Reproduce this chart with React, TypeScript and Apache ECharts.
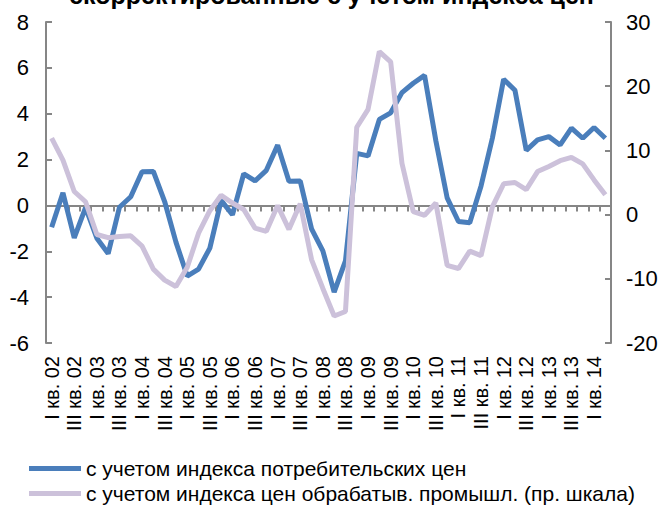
import React, { useEffect, useRef } from "react";
import * as echarts from "echarts";

const categories = [
  "I кв. 02", "II кв. 02", "III кв. 02", "IV кв. 02",
  "I кв. 03", "II кв. 03", "III кв. 03", "IV кв. 03",
  "I кв. 04", "II кв. 04", "III кв. 04", "IV кв. 04",
  "I кв. 05", "II кв. 05", "III кв. 05", "IV кв. 05",
  "I кв. 06", "II кв. 06", "III кв. 06", "IV кв. 06",
  "I кв. 07", "II кв. 07", "III кв. 07", "IV кв. 07",
  "I кв. 08", "II кв. 08", "III кв. 08", "IV кв. 08",
  "I кв. 09", "II кв. 09", "III кв. 09", "IV кв. 09",
  "I кв. 10", "II кв. 10", "III кв. 10", "IV кв. 10",
  "I кв. 11", "II кв. 11", "III кв. 11", "IV кв. 11",
  "I кв. 12", "II кв. 12", "III кв. 12", "IV кв. 12",
  "I кв. 13", "II кв. 13", "III кв. 13", "IV кв. 13",
  "I кв. 14", "II кв. 14",
];

const cpiSeries = [
  -0.95, 0.55, -1.42, -0.1, -1.43, -2.1, -0.08, 0.38, 1.47, 1.48,
  0.17, -1.6, -3.08, -2.78, -1.86, 0.22, -0.41, 1.38, 1.07, 1.53,
  2.63, 1.05, 1.06, -1.02, -1.98, -3.78, -2.42, 2.27, 2.16, 3.75,
  4.04, 4.92, 5.33, 5.67, 2.82, 0.33, -0.7, -0.76, 0.85, 2.93,
  5.5, 5.02, 2.4, 2.86, 3.0, 2.64, 3.37, 2.93, 3.4, 2.93,
];

const ppiSeries = [
  11.9, 8.5, 3.6, 2.0, -3.1, -3.6, -3.4, -3.3, -4.9, -8.5,
  -10.2, -11.2, -8.2, -2.9, 0.6, 3.0, 1.8, 0.8, -2.1, -2.6,
  1.4, -2.3, 1.7, -7.0, -11.5, -15.8, -15.1, 13.6, 16.4, 25.4,
  23.8, 8.0, 0.45, -0.1, 1.8, -7.9, -8.4, -5.7, -6.4, 1.2,
  4.8, 5.0, 3.9, 6.7, 7.5, 8.4, 8.9, 7.9, 5.4, 3.1,
];

const seriesNames = [
  "с учетом индекса потребительских цен",
  "с учетом индекса цен обрабатыв. промышл. (пр. шкала)",
];
const titleText = "скорректированные с учетом индекса цен";

const FONT = "'Liberation Sans', Arial, sans-serif";
const AXIS_GRAY = "#868686";
const BLUE = "#4A7EBB";
const LILAC = "#CCC1DA";

const legendBase = {
  orient: "horizontal",
  left: 24,
  itemWidth: 52,
  itemHeight: 5,
  icon: "rect",
  textStyle: { fontFamily: FONT, fontSize: 21, color: "#000" },
};

export default function App() {
  const ref = useRef<HTMLDivElement>(null);
  useEffect(() => {
    if (!ref.current) return;
    const chart = echarts.init(ref.current, undefined, { renderer: "svg" });
    chart.setOption({
      animation: false,
      backgroundColor: "#ffffff",
      textStyle: { fontFamily: FONT },
      title: {
        text: titleText,
        left: "center",
        top: -23,
        textStyle: { fontFamily: FONT, fontSize: 25, fontWeight: "bold", color: "#000" },
      },
      grid: { left: 46, right: 52, top: 22, bottom: 163, containLabel: false },
      legend: [
        { ...legendBase, top: 453, data: [seriesNames[0]] },
        { ...legendBase, top: 478, data: [seriesNames[1]] },
      ],
      xAxis: [
        {
          type: "category",
          data: categories,
          boundaryGap: true,
          position: "bottom",
          axisLine: { show: false, onZero: false },
          axisTick: { show: false },
          axisLabel: {
            rotate: 90,
            interval: 1,
            fontSize: 20,
            color: "#000",
            fontFamily: FONT,
            margin: 13,
          },
          splitLine: { show: false },
        },
        {
          type: "category",
          data: categories,
          boundaryGap: true,
          position: "bottom",
          axisLine: {
            show: true,
            onZero: true,
            onZeroAxisIndex: 0,
            lineStyle: { color: AXIS_GRAY, width: 2 },
          },
          axisTick: { show: true, interval: 0, length: 6, lineStyle: { color: AXIS_GRAY, width: 2 } },
          axisLabel: { show: false },
          splitLine: { show: false },
        },
      ],
      yAxis: [
        {
          type: "value",
          position: "left",
          min: -6,
          max: 8,
          interval: 2,
          axisLine: { show: true, lineStyle: { color: AXIS_GRAY, width: 2 } },
          axisTick: { show: true, inside: true, length: 6, lineStyle: { color: AXIS_GRAY, width: 2 } },
          axisLabel: { fontSize: 22, color: "#000", fontFamily: FONT, margin: 17 },
          splitLine: { show: false },
        },
        {
          type: "value",
          position: "right",
          min: -20,
          max: 30,
          interval: 10,
          axisLine: { show: true, lineStyle: { color: AXIS_GRAY, width: 2 } },
          axisTick: { show: true, inside: true, length: 6, lineStyle: { color: AXIS_GRAY, width: 2 } },
          axisLabel: { fontSize: 22, color: "#000", fontFamily: FONT, margin: 15 },
          splitLine: { show: false },
        },
      ],
      series: [
        {
          name: seriesNames[0],
          type: "line",
          xAxisIndex: 0,
          yAxisIndex: 0,
          data: cpiSeries,
          showSymbol: false,
          symbol: "none",
          color: BLUE,
          lineStyle: { color: BLUE, width: 5 },
          z: 2,
        },
        {
          name: seriesNames[1],
          type: "line",
          xAxisIndex: 0,
          yAxisIndex: 1,
          data: ppiSeries,
          showSymbol: false,
          symbol: "none",
          color: LILAC,
          lineStyle: { color: LILAC, width: 5 },
          z: 3,
        },
      ],
    });
    return () => chart.dispose();
  }, []);
  return (
    <div
      ref={ref}
      style={{ position: "fixed", left: 0, top: 0, width: 663, height: 506 }}
    />
  );
}
